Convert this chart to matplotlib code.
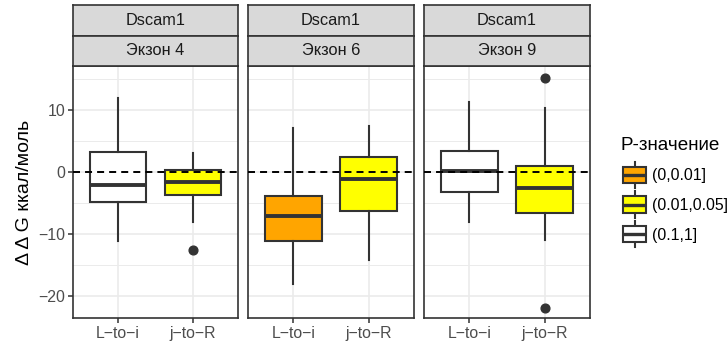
import matplotlib
matplotlib.use("Agg")
import matplotlib.pyplot as plt
from matplotlib.patches import Rectangle, Patch
from matplotlib.lines import Line2D
from matplotlib.legend_handler import HandlerBase

plt.rcParams['font.family'] = ['Liberation Sans', 'DejaVu Sans']

# --- data ---
gene = "Dscam1"
exons = ["Экзон 4", "Экзон 6", "Экзон 9"]
groups = ["L\u2212to\u2212i", "j\u2212to\u2212R"]

# per panel: [L-to-i, j-to-R]
whisker_low = [[-11.1, -8.1], [-18.1, -14.2], [-8.1, -11.0]]
q1 = [[-4.9, -3.8], [-11.2, -6.4], [-3.2, -6.7]]
median = [[-2.1, -1.7], [-7.2, -1.2], [0.1, -2.7]]
q3 = [[3.25, 0.3], [-3.9, 2.3], [3.4, 0.9]]
whisker_high = [[11.9, 3.0], [7.0, 7.3], [11.3, 10.3]]
outliers = [[[], [-12.6]], [[], []], [[], [15.1, -22.0]]]
p_class = [["(0.1,1]", "(0.01,0.05]"], ["(0,0.01]", "(0.01,0.05]"], ["(0.1,1]", "(0.01,0.05]"]]

p_levels = ["(0,0.01]", "(0.01,0.05]", "(0.1,1]"]
p_colors = {"(0,0.01]": "#FFA500", "(0.01,0.05]": "#FFFF00", "(0.1,1]": "#FFFFFF"}

y_major = [-20, -10, 0, 10]
y_minor = [-15, -5, 5, 15]

# --- layout (pixels) ---
W, H = 728, 343
DARK = "#333333"
GRID = "#EBEBEB"
FS = 11.4


def px_axes(fig, x0, y0, x1, y1):
    return fig.add_axes([x0 / W, 1 - y1 / H, (x1 - x0) / W, (y1 - y0) / H])


class BoxKey(HandlerBase):
    # ggplot-style boxplot legend key, sized from the key width
    def create_artists(self, legend, orig_handle, xdescent, ydescent,
                       width, height, fontsize, trans):
        x0, y0 = -xdescent, -ydescent
        cx, cy = x0 + width / 2, y0 + height / 2
        bh = width * 0.70
        wh = width * 1.13
        lw = 1.5
        box = Rectangle((x0, cy - bh / 2), width, bh,
                        facecolor=orig_handle.get_facecolor(),
                        edgecolor=DARK, lw=lw, transform=trans)
        wl = Line2D([cx, cx], [cy - wh / 2, cy + wh / 2], color=DARK, lw=lw,
                    transform=trans)
        md = Line2D([x0, x0 + width], [cy, cy], color=DARK, lw=lw * 1.6,
                    solid_capstyle="butt", transform=trans)
        return [wl, box, md]


fig = plt.figure(figsize=(W / 100, H / 100), dpi=100)

panel_x = [(73, 238), (248, 414), (424, 590)]
for i, (xa, xb) in enumerate(panel_x):
    ax = px_axes(fig, xa, 66, xb, 318)
    stats = []
    for j in range(2):
        stats.append(dict(whislo=whisker_low[i][j], q1=q1[i][j], med=median[i][j],
                          q3=q3[i][j], whishi=whisker_high[i][j],
                          fliers=outliers[i][j]))
    res = ax.bxp(stats, positions=[1, 2], widths=0.75, patch_artist=True,
                 showcaps=False,
                 boxprops=dict(edgecolor=DARK, lw=1.5),
                 whiskerprops=dict(color=DARK, lw=1.5),
                 medianprops=dict(color=DARK, lw=2.8, solid_capstyle="butt"),
                 flierprops=dict(marker="o", markerfacecolor=DARK,
                                 markeredgecolor=DARK, markersize=6.3))
    for j, b in enumerate(res["boxes"]):
        b.set_facecolor(p_colors[p_class[i][j]])
    ax.axhline(0, color="black", lw=1.4, ls=(0, (3.6, 2.6)), zorder=5)

    ax.set_xlim(0.4, 2.6)
    ax.set_ylim(-23.6, 17.05)
    ax.set_xticks([1, 2])
    ax.set_xticklabels(groups)
    ax.set_yticks(y_major)
    ax.set_yticks(y_minor, minor=True)
    ax.set_axisbelow(True)
    ax.grid(which="major", color=GRID, lw=1.2)
    ax.grid(which="minor", axis="y", color=GRID, lw=0.7)
    ax.tick_params(axis="both", which="major", color=DARK, length=3.6, width=1.1,
                   labelsize=FS, labelcolor="#4D4D4D", pad=2)
    ax.tick_params(axis="y", which="minor", length=0)
    for s in ax.spines.values():
        s.set_color(DARK)
        s.set_linewidth(1.2)
    if i == 0:
        ax.set_ylabel("\u0394 \u0394 G ккал/моль", fontsize=14, labelpad=4)
    else:
        ax.tick_params(axis="y", which="major", length=0, labelleft=False)

    # facet strips
    for ya, yb, txt in [(5, 35.5, gene), (35.5, 66, exons[i])]:
        st = px_axes(fig, xa, ya, xb, yb)
        st.set_facecolor("#D9D9D9")
        st.set_xticks([])
        st.set_yticks([])
        for s in st.spines.values():
            s.set_color(DARK)
            s.set_linewidth(1.2)
        st.text(0.5, 0.5, txt, ha="center", va="center", fontsize=11.8,
                color="#1A1A1A", transform=st.transAxes)

# legend
fig.text(620 / W, 1 - 145 / H, "P-значение", fontsize=13.6, ha="left", va="center")
handles = [Patch(facecolor=p_colors[p]) for p in p_levels]
leg = fig.legend(handles, p_levels, handler_map={Patch: BoxKey()},
                 loc="center left", bbox_to_anchor=(623 / W, 1 - 204.5 / H),
                 frameon=False, fontsize=FS,
                 handlelength=1.46, handleheight=1.65, labelspacing=0.57,
                 handletextpad=0.4, borderpad=0, borderaxespad=0)

fig.savefig("out.png", dpi=100)
